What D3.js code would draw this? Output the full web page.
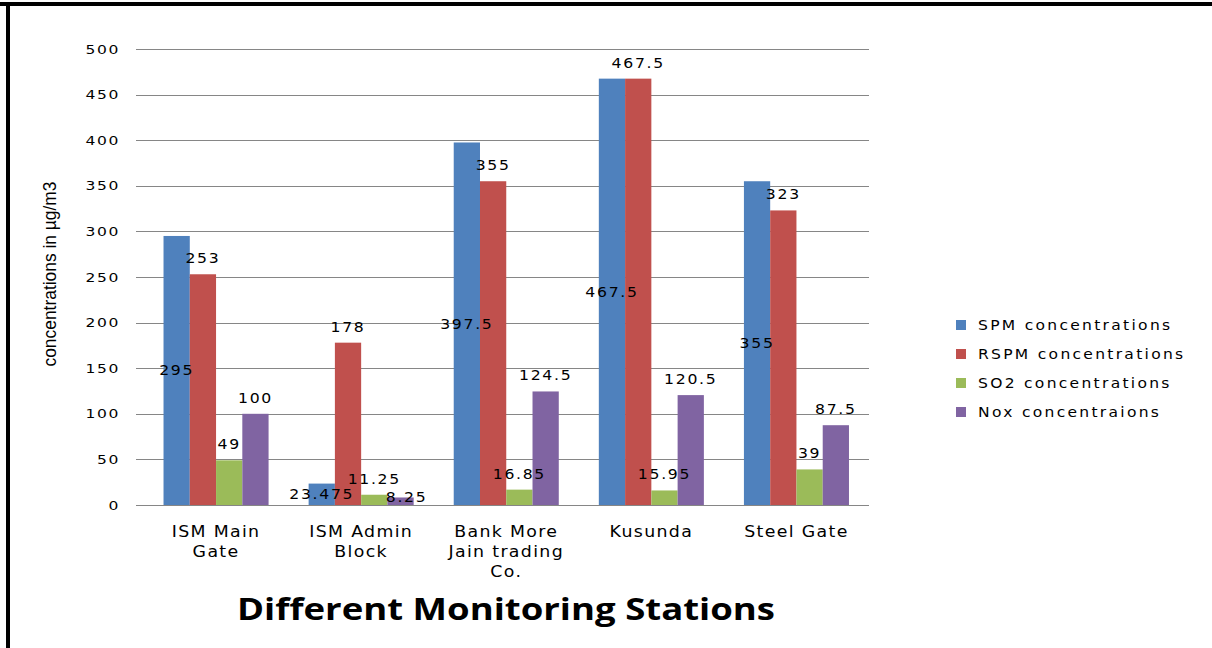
<!DOCTYPE html>
<html>
<head>
<meta charset="utf-8">
<script src="https://cdn.jsdelivr.net/npm/d3@7"></script>
<style>
  body { margin: 0; background: #fff; }
  svg { display: block; }
  text { font-family: "DejaVu Sans", Verdana, sans-serif; fill: #000; }
</style>
</head>
<body>
<div id="chart"></div>
<script>
// stations on the x axis (multi-line labels)
var categories = ["ISM Main Gate", "ISM Admin Block", "Bank More Jain trading Co.", "Kusunda", "Steel Gate"];
var categoryLines = [["ISM Main", "Gate"], ["ISM Admin", "Block"], ["Bank More", "Jain trading", "Co."], ["Kusunda"], ["Steel Gate"]];

var seriesNames = ["SPM concentrations", "RSPM concentrations", "SO2 concentrations", "Nox concentraions"];
var spm  = [295, 23.475, 397.5, 467.5, 355];
var rspm = [253, 178, 355, 467.5, 323];
var so2  = [49, 11.25, 16.85, 15.95, 39];
var nox  = [100, 8.25, 124.5, 120.5, 87.5];
var yTicks = [0, 50, 100, 150, 200, 250, 300, 350, 400, 450, 500];

var colors = ["#4f81bd", "#c0504d", "#9bbb59", "#8064a2"];

var width = 1212, height = 648;
var plot = {left: 143.5, right: 869, top: 49, bottom: 505};

var svg = d3.select("#chart").append("svg")
    .attr("width", width)
    .attr("height", height);

svg.append("rect").attr("width", width).attr("height", height).attr("fill", "#fff");

// frame (only top and left edges are visible in the picture)
svg.append("rect").attr("x", 0).attr("y", 2).attr("width", width).attr("height", 4).attr("fill", "#000");
svg.append("rect").attr("x", 6).attr("y", 2).attr("width", 4).attr("height", height).attr("fill", "#000");

var x0 = d3.scaleBand()
    .domain(categories)
    .range([plot.left, plot.right])
    .paddingInner(0.276)
    .paddingOuter(0.138);

var x1 = d3.scaleBand()
    .domain(seriesNames)
    .range([0, x0.bandwidth()]);

var y = d3.scaleLinear()
    .domain([0, 500])
    .range([plot.bottom, plot.top]);

// stretched text helper: the source renders its text wide
function stretched(sel, x, yy, sx) {
    return sel.attr("transform", "translate(" + x + "," + yy + ") scale(" + sx + ",1)");
}

// gridlines
svg.append("g").selectAll("line")
    .data(yTicks)
    .enter().append("line")
    .attr("x1", 136)
    .attr("x2", plot.right)
    .attr("y1", function(d) { return Math.round(y(d)) + 0.5; })
    .attr("y2", function(d) { return Math.round(y(d)) + 0.5; })
    .attr("stroke", "#868686")
    .attr("stroke-width", 1);

// y tick labels
svg.append("g").selectAll("text")
    .data(yTicks)
    .enter().append("text")
    .each(function(d) {
        stretched(d3.select(this), 120, y(d) + 4.5, 1.35);
    })
    .attr("text-anchor", "end")
    .style("font-size", "11.5px")
    .style("letter-spacing", "1.2px")
    .text(function(d) { return d; });

// y axis title
svg.append("text")
    .attr("transform", "translate(56," + 274 + ") rotate(-90)")
    .attr("text-anchor", "middle")
    .attr("textLength", 185)
    .attr("lengthAdjust", "spacingAndGlyphs")
    .style("font-family", "'Liberation Sans Narrow', 'Liberation Sans', sans-serif")
    .style("font-size", "19px")
    .text("concentrations in \u00b5g/m3");

// bars
var table = categories.map(function(c, i) {
    return {
        category: c,
        values: [spm[i], rspm[i], so2[i], nox[i]].map(function(v, j) {
            return {series: seriesNames[j], value: v, index: j};
        })
    };
});

var groups = svg.append("g").selectAll("g")
    .data(table)
    .enter().append("g")
    .attr("transform", function(d) { return "translate(" + x0(d.category) + ",0)"; });

groups.selectAll("rect")
    .data(function(d) { return d.values; })
    .enter().append("rect")
    .attr("x", function(d) { return x1(d.series); })
    .attr("y", function(d) { return y(d.value); })
    .attr("width", x1.bandwidth())
    .attr("height", function(d) { return y(0) - y(d.value); })
    .attr("fill", function(d) { return colors[d.index]; });

// data labels: SPM at bar centre, others above the bar
groups.each(function(g) {
    var prev = null;
    d3.select(this).selectAll("text.lbl")
        .data(g.values)
        .enter().append("text")
        .attr("class", "lbl")
        .attr("text-anchor", "middle")
        .style("font-size", "14px")
        .style("letter-spacing", "1.5px")
        .each(function(d) {
            var cx = x1(d.series) + x1.bandwidth() / 2;
            var cy = d.index === 0 ? (y(d.value) + y(0)) / 2 : y(d.value) - 16;
            var w = String(d.value).length * 10;
            // nudge a label that collides with its neighbour
            if (prev && d.index > 0 && Math.abs(cy - prev.cy) < 14 && cx - w / 2 < prev.cx + prev.w / 2) {
                cy = y(d.value);
                cx += 6;
            }
            prev = {cx: cx, cy: cy, w: w};
            stretched(d3.select(this), cx, cy + 5, 1.12);
        })
        .text(function(d) { return d.value; });
});

// category labels
svg.append("g").selectAll("text")
    .data(categories)
    .enter().append("text")
    .attr("text-anchor", "middle")
    .style("font-size", "15.5px")
    .style("letter-spacing", "1.2px")
    .each(function(d, i) {
        var t = d3.select(this);
        stretched(t, x0(d) + x0.bandwidth() / 2, 537, 1.12);
        categoryLines[i].forEach(function(line, k) {
            t.append("tspan")
                .attr("x", 0)
                .attr("y", k * 20)
                .text(line);
        });
    });

// x axis title
svg.append("text")
    .attr("x", 506)
    .attr("y", 620)
    .attr("text-anchor", "middle")
    .attr("textLength", 538)
    .attr("lengthAdjust", "spacingAndGlyphs")
    .style("font-family", "'Open Sans', 'Liberation Sans', sans-serif")
    .style("font-weight", "bold")
    .style("font-size", "30px")
    .text("Different Monitoring Stations");

// legend
var legend = svg.append("g").selectAll("g")
    .data(seriesNames)
    .enter().append("g")
    .attr("transform", function(d, i) { return "translate(956," + (325 + i * 29) + ")"; });

legend.append("rect")
    .attr("x", 0)
    .attr("y", -5)
    .attr("width", 10)
    .attr("height", 10)
    .attr("fill", function(d, i) { return colors[i]; });

legend.append("text")
    .each(function() { stretched(d3.select(this), 22, 5, 1.15); })
    .style("font-size", "13.5px")
    .style("letter-spacing", "2px")
    .text(function(d) { return d; });
</script>
</body>
</html>
